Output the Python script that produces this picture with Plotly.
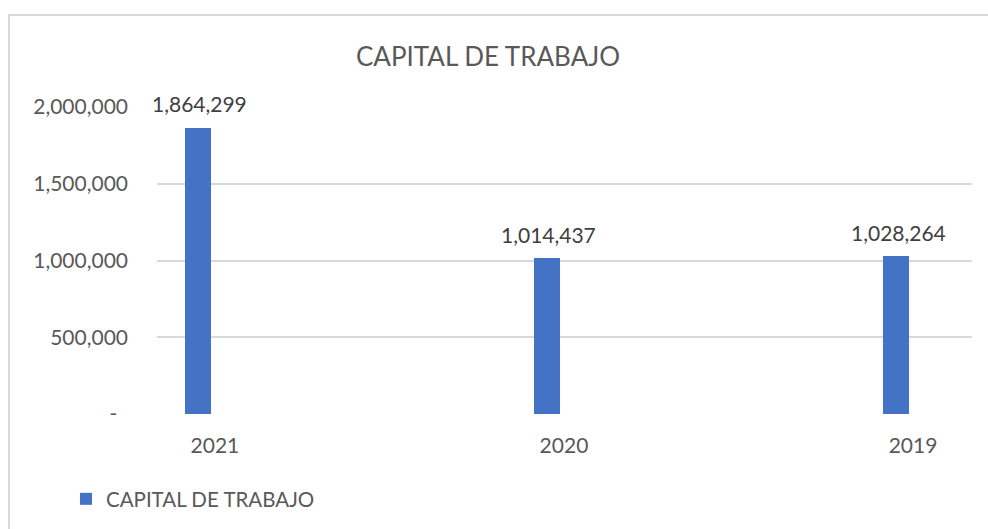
import plotly.graph_objects as go

categories = ["2021", "2020", "2019"]
values = [1864299, 1014437, 1028264]
series_name = "CAPITAL DE TRABAJO"
title_text = "CAPITAL DE TRABAJO"
y_tickvals = [0, 500000, 1000000, 1500000, 2000000]
y_ticktext = ["-\u00a0\u00a0", "500,000", "1,000,000", "1,500,000", "2,000,000"]

W, H = 988, 529
L, R, T, B = 157, 16, 107, 115
FONT = "Lato, 'Open Sans', sans-serif"
TXT = "#595959"
BAR = "#4472C4"
GRID = "#D9D9D9"

fig = go.Figure()
fig.add_trace(go.Bar(
    x=categories, y=values, name=series_name,
    marker=dict(color=BAR, line=dict(width=0)),
    width=0.075, offset=-0.086,
    showlegend=True,
))

# data labels, placed at each bar's value through the axes (category index)
for i, val in enumerate(values):
    fig.add_annotation(x=i, y=val, xref="x", yref="y", text=f"{val:,}",
                       showarrow=False, xanchor="center", yanchor="middle",
                       xshift=-15, yshift=24,
                       font=dict(family=FONT, size=21, color="#404040"))

plot_w = W - L - R
plot_h = H - T - B
fig.add_shape(type="rect", xref="paper", yref="paper",
              x0=(9 - L) / plot_w, x1=(W + 20 - L) / plot_w,
              y0=-(B + 20) / plot_h,
              y1=1 + (T - 15) / plot_h,
              line=dict(color=GRID, width=2), fillcolor="rgba(0,0,0,0)", layer="below")

fig.update_layout(
    width=W, height=H,
    margin=dict(l=L, r=R, t=T, b=B, pad=0),
    paper_bgcolor="white", plot_bgcolor="white",
    title=dict(text=title_text, x=488 / W, xref="container", xanchor="center",
               y=1 - 57 / H, yref="container", yanchor="middle",
               font=dict(family=FONT, size=26, color=TXT)),
    xaxis=dict(type="category", range=[-0.166, 2.169], showgrid=False,
               showline=False, ticks="", zeroline=False,
               tickfont=dict(family=FONT, size=21, color=TXT),
               ticklabelstandoff=17),
    yaxis=dict(range=[0, 2000000], tickvals=y_tickvals, ticktext=y_ticktext,
               showgrid=True, gridcolor=GRID, gridwidth=1.5, zeroline=False,
               showline=False, ticks="",
               tickfont=dict(family=FONT, size=21, color=TXT),
               ticklabelstandoff=28),
    legend=dict(orientation="h", x=66 / W, xref="container", xanchor="left",
                y=1 - 499 / H, yref="container", yanchor="middle",
                font=dict(family=FONT, size=20.5, color=TXT),
                bgcolor="rgba(0,0,0,0)"),
    bargap=0,
)

fig.write_html("out.html", config={"displayModeBar": False},
               post_script="document.body.style.margin='0';document.body.style.overflow='hidden';")
